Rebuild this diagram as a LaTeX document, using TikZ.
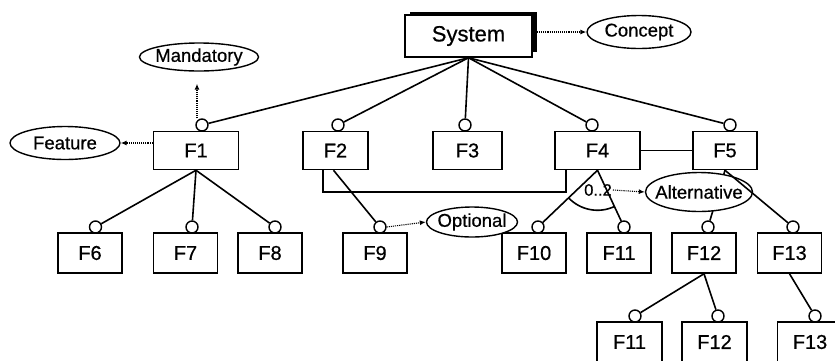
\documentclass[tikz,border=0pt]{standalone}
\usepackage{fontspec}
\setmainfont{Liberation Sans}[FakeBold=0.6]
\usetikzlibrary{shapes.geometric,arrows.meta}
\begin{document}
\begin{tikzpicture}[x=1pt,y=-1pt,
  feat/.style={draw,line width=1.5pt,fill=white,inner sep=0pt,minimum width=64pt,minimum height=40pt,font=\fontsize{20}{20}\selectfont},
  knob/.style={draw,circle,line width=1.4pt,fill=white,inner sep=0pt,minimum size=12pt},
  tag/.style={draw,ellipse,line width=1.4pt,fill=white,inner xsep=-30pt,inner ysep=-12pt,font=\fontsize{18.5}{18.5}\selectfont},
  link/.style={line width=1.6pt},
  note/.style={densely dotted,line width=1.1pt,-{Latex[length=6pt,width=5pt]}}]
\useasboundingbox (0,0) rectangle (835,360);
\clip (0,0) rectangle (835,360);

% root with shadow
\fill (410,11.5) rectangle (537,52);
\node[feat,minimum width=127pt,minimum height=42pt,font=\fontsize{22}{22}\selectfont] (sys) at (468.5,36) {System};

% level 1
\node[feat,minimum width=85pt,minimum height=38pt] (f1) at (196,150.5) {F1};
\node[feat,minimum width=65pt,minimum height=38pt] (f2) at (335.5,150.5) {F2};
\node[feat,minimum width=69pt,minimum height=38pt] (f3) at (467.5,150.5) {F3};
\node[feat,minimum width=85pt,minimum height=38pt] (f4) at (597.5,150.5) {F4};
\node[feat,minimum width=64pt,minimum height=38pt] (f5) at (725,150.5) {F5};

% level 2
\node[feat] (f6) at (90,253) {F6};
\node[feat] (f7) at (185.5,253) {F7};
\node[feat] (f8) at (270,253) {F8};
\node[feat] (f9) at (375,253) {F9};
\node[feat] (f10) at (534,253) {F10};
\node[feat] (f11) at (619,253) {F11};
\node[feat] (f12) at (704,253) {F12};
\node[feat] (f13) at (789.5,253) {F13};

% level 3
\node[feat,minimum width=65pt] (g11) at (629.5,342) {F11};
\node[feat,minimum width=65pt] (g12) at (714.5,342) {F12};
\node[feat,minimum width=65pt] (g13) at (810,342) {F13};

% knobs
\node[knob] (k1) at (202,125) {};
\node[knob] (k2) at (338,125) {};
\node[knob] (k3) at (465,125) {};
\node[knob] (k4) at (592,125) {};
\node[knob] (k5) at (730,125) {};
\node[knob] (k6) at (95.5,227) {};
\node[knob] (k7) at (192,227) {};
\node[knob] (k8) at (275,227) {};
\node[knob] (k9) at (380,227) {};
\node[knob] (k10) at (538,227) {};
\node[knob] (k11) at (624,227) {};
\node[knob] (k12) at (708,227) {};
\node[knob] (k13) at (793,227) {};
\node[knob] (j11) at (635,316) {};
\node[knob] (j12) at (718,316) {};
\node[knob] (j13) at (815,316) {};

% tree links
\foreach \k in {k1,k2,k3,k4,k5} \draw[link] (sys.south) -- (\k);
\foreach \k in {k6,k7,k8} \draw[link] (f1.south) -- (\k);
\draw[link] ([xshift=-2pt]f2.south) -- (k9);
\draw[link] ([xshift=-12.5pt]f2.south) |- ([xshift=-31.5pt,yshift=-22pt]f4.south) -- ([xshift=-31.5pt]f4.south);
\draw[link] (f4.south) -- (k10);
\draw[link] (f4.south) -- (k11);
\draw[link] (f4.south) ++(136:40) arc[start angle=136,end angle=65.3,radius=40];
\draw[link] (f4.east) -- (f5.west);
\draw[link] (f5.south) -- (k12);
\draw[link] (f12.south) -- (j11);
\draw[link] (f12.south) -- (j12);
\draw[link] (f13.south) -- (j13);

% concept labels
\node[tag,minimum width=104pt,minimum height=33pt] (concept) at (639,32) {Concept};
\node[tag,minimum width=119pt,minimum height=28pt] (mand) at (199,57) {Mandatory};
\node[tag,minimum width=110pt,minimum height=33pt] (feature) at (65,143) {Feature};
\node[tag,minimum width=91pt,minimum height=30pt] (optional) at (472,222) {Optional};
\node[tag,minimum width=107pt,minimum height=39pt] (alt) at (699,192) {Alternative};
\node[inner sep=1pt,font=\fontsize{16.5}{16.5}\selectfont] (card) at (598,190) {0..2};

\draw[link] (f5.south) -- (k13);

% notes
\draw[note] (sys.east |- concept.west) -- (concept.west);
\draw[note,shorten >=12pt] ([xshift=-5pt]k1.north) -- ([xshift=-5pt]k1.north |- mand.south);
\draw[note] (f1.west |- feature.east) -- (feature.east);
\draw[note] (k9.east) -- (optional.west);
\draw[note] (card.east) -- (alt.west);
\end{tikzpicture}
\end{document}
